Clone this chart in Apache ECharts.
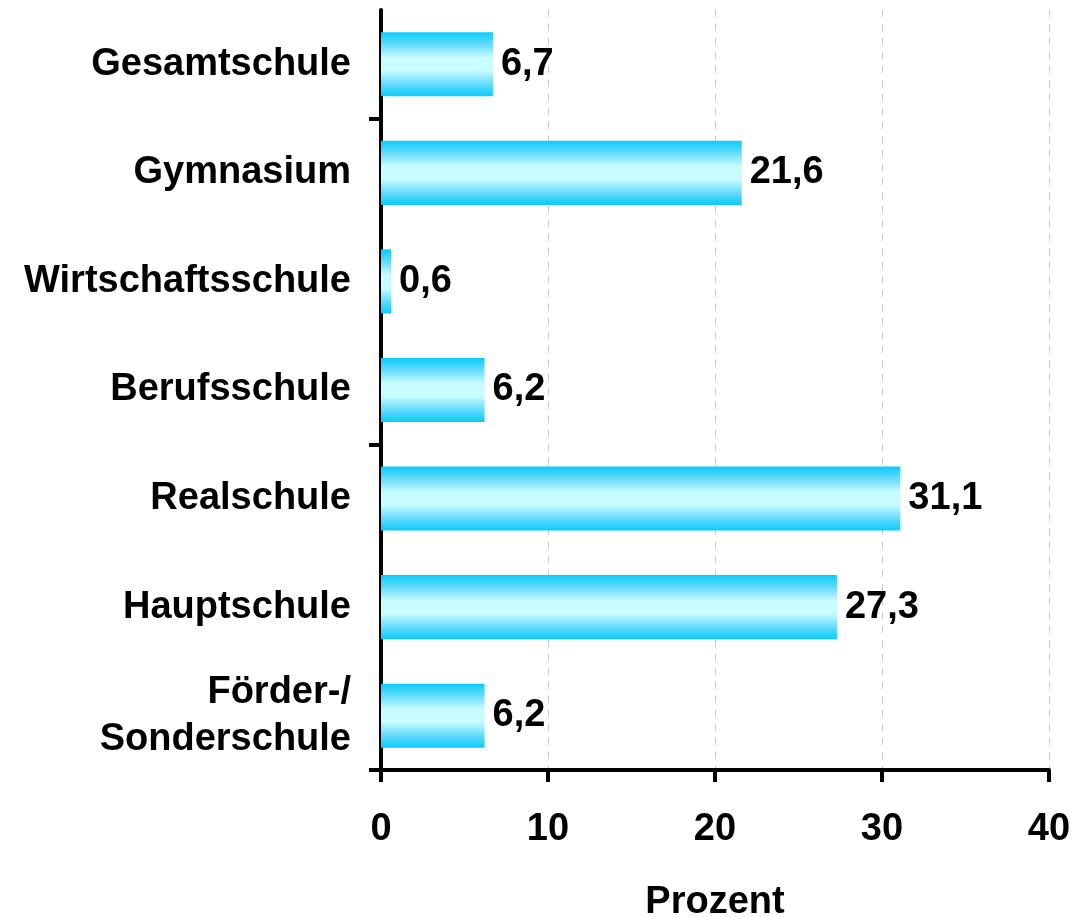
<!DOCTYPE html>
<html>
<head>
<meta charset="utf-8">
<script src="https://cdn.jsdelivr.net/npm/echarts@6/dist/echarts.min.js"></script>
<style>
  html, body { margin: 0; padding: 0; background: #fff; }
  #chart { width: 1073px; height: 917px; }
</style>
</head>
<body>
<div id="chart"></div>
<script>
// Kategorien von oben nach unten (Achse ist invertiert)
var schularten = ["Gesamtschule", "Gymnasium", "Wirtschaftsschule", "Berufsschule", "Realschule", "Hauptschule", "Förder-/\nSonderschule"];
var prozent = [6.7, 21.6, 0.6, 6.2, 31.1, 27.3, 6.2];
var xTicks = [0, 10, 20, 30, 40];

var font = "'Liberation Sans', Arial, Helvetica, sans-serif";
var mychart = echarts.init(document.getElementById("chart"));

var option = {
  animation: false,
  grid: { left: 381, right: 24, top: 10, bottom: 147, containLabel: false, outerBoundsMode: "none" },
  xAxis: {
    type: "value",
    min: xTicks[0],
    max: xTicks[xTicks.length - 1],
    interval: 10,
    name: "Prozent",
    nameLocation: "middle",
    nameGap: 114,
    nameTextStyle: { color: "#000", fontSize: 38, fontWeight: "bold", fontFamily: font },
    axisLine: { show: true, lineStyle: { color: "#000", width: 4 } },
    axisTick: { show: true, length: 12, lineStyle: { color: "#000", width: 4 } },
    axisLabel: { color: "#000", fontSize: 38, fontWeight: "bold", fontFamily: font, margin: 41 },
    splitLine: { show: true, lineStyle: { color: "#c8c8c8", width: 1, type: [7, 7] } }
  },
  yAxis: {
    type: "category",
    inverse: true,
    data: schularten,
    axisLine: { show: true, lineStyle: { color: "#000", width: 4 } },
    // Striche nur zwischen Gesamtschule/Gymnasium, Berufsschule/Realschule und unten
    axisTick: {
      show: true,
      interval: function (i) { return i === 1 || i === 4; },
      length: 12,
      lineStyle: { color: "#000", width: 4 }
    },
    axisLabel: { color: "#000", fontSize: 38, fontWeight: "bold", fontFamily: font, margin: 30, lineHeight: 47, align: "right", interval: 0 },
    splitLine: { show: false }
  },
  series: [
    {
      type: "bar",
      data: prozent,
      barWidth: "59%",
      itemStyle: {
        color: new echarts.graphic.LinearGradient(0, 0, 0, 1, [
          { offset: 0, color: "#08cbfa" },
          { offset: 0.2, color: "#6adcfc" },
          { offset: 0.4, color: "#c8fcff" },
          { offset: 0.6, color: "#c8fcff" },
          { offset: 0.8, color: "#6adcfc" },
          { offset: 1, color: "#08cbfa" }
        ])
      },
      label: {
        show: true,
        position: "right",
        distance: 8,
        color: "#000",
        fontSize: 38,
        fontWeight: "bold",
        fontFamily: font,
        formatter: function (p) {
          return String(p.value).replace(".", ",");
        }
      }
    }
  ]
};
mychart.setOption(option, true);
</script>
</body>
</html>
